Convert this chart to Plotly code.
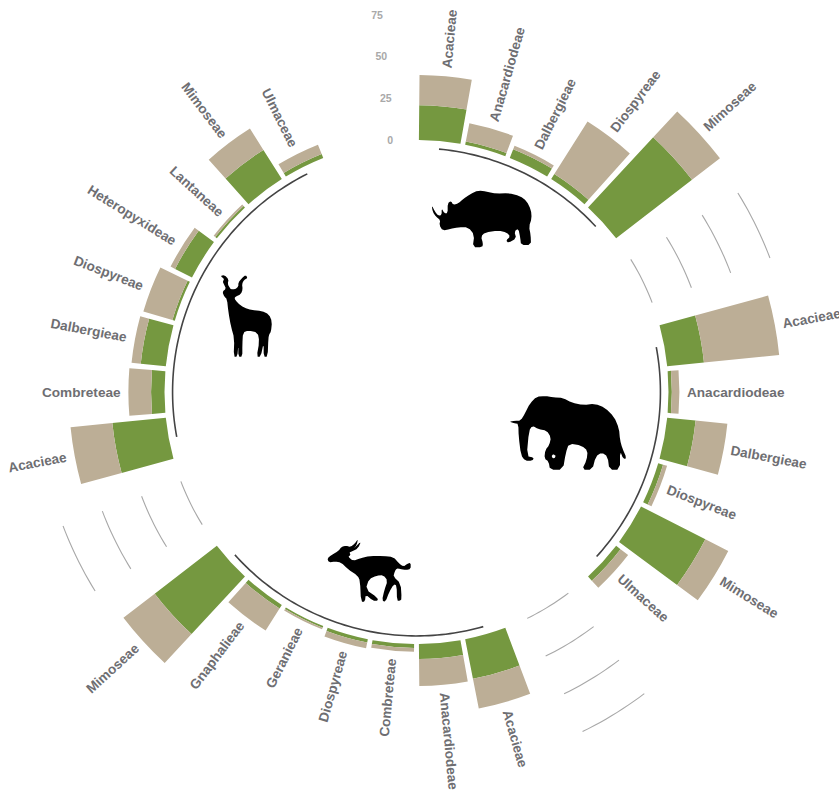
import numpy as np
import plotly.graph_objects as go

# ---------- data ----------
rhino_tribes = ["Acacieae", "Anacardiodeae", "Dalbergieae", "Diospyreae", "Mimoseae"]
rhino_green = [20.7, 2.0, 5.5, 3.5, 57.0]
rhino_tan = [18.0, 11.0, 2.2, 37.0, 21.0]

elephant_tribes = ["Acacieae", "Anacardiodeae", "Dalbergieae", "Diospyreae", "Mimoseae", "Ulmaceae"]
elephant_green = [22.0, 2.0, 17.0, 3.0, 43.0, 3.3]
elephant_tan = [45.0, 4.5, 19.0, 2.5, 15.3, 5.7]

impala_tribes = ["Acacieae", "Anacardiodeae", "Combreteae", "Diospyreae", "Geranieae", "Gnaphalieae", "Mimoseae"]
impala_green = [24.0, 9.0, 2.4, 2.0, 1.0, 2.5, 46.7]
impala_tan = [18.0, 16.0, 2.2, 3.5, 1.0, 15.5, 23.5]

kudu_tribes = ["Acacieae", "Combreteae", "Dalbergieae", "Diospyreae", "Heteropyxideae", "Lantaneae", "Mimoseae", "Ulmaceae"]
kudu_green = [32.0, 8.0, 15.0, 1.5, 11.3, 1.2, 20.5, 2.5]
kudu_tan = [25.0, 13.5, 5.5, 18.0, 3.0, 1.2, 15.0, 6.0]

radial_ticks = [0, 25, 50, 75]

# ---------- layout constants ----------
W, H = 839, 791
CX, CY = 416.5, 392.0
PX_PER_UNIT = 1.68
R0 = 252.0
R_OUT = 390.0
R_MIN = -R0 / PX_PER_UNIT
R_MAX = (R_OUT - R0) / PX_PER_UNIT
SLOT = 360.0 / 34
GREEN = "#759840"
TAN = "#bcae96"
LABEL = "#6e6e72"

groups = [
    (rhino_tribes, rhino_green, rhino_tan),
    (elephant_tribes, elephant_green, elephant_tan),
    (impala_tribes, impala_green, impala_tan),
    (kudu_tribes, kudu_green, kudu_tan),
]

names, greens, tans, thetas, arcs, gaps = [], [], [], [], [], []
slot = 0
for idx, (tribes, g, t) in enumerate(groups):
    first = slot
    for n, a, b in zip(tribes, g, t):
        names.append(n)
        greens.append(a)
        tans.append(b)
        thetas.append(SLOT * (slot + 0.5))
        slot += 1
    arcs.append((SLOT * (first + 0.5), SLOT * (slot - 0.5)))
    if idx < 3:
        gaps.append((SLOT * (slot + 0.5), SLOT * (slot + 1.5)))
    slot += 2

fig = go.Figure()
fig.add_trace(go.Barpolar(r=greens, theta=thetas, width=9.5, marker=dict(color=GREEN, line=dict(width=0)), showlegend=False, hoverinfo="skip"))
fig.add_trace(go.Barpolar(r=tans, theta=thetas, width=9.5, marker=dict(color=TAN, line=dict(width=0)), showlegend=False, hoverinfo="skip"))

for a, b in arcs:
    th = np.arange(a, b + 0.5, 1.0)
    fig.add_trace(go.Scatterpolar(r=[-4.8] * len(th), theta=th, mode="lines", line=dict(color="#444444", width=1.6), showlegend=False, hoverinfo="skip"))
for a, b in gaps:
    th = np.arange(a, b + 0.5, 1.0)
    for tick in radial_ticks:
        fig.add_trace(go.Scatterpolar(r=[tick] * len(th), theta=th, mode="lines", line=dict(color="#a8a8a8", width=1.1), showlegend=False, hoverinfo="skip"))

fig.add_trace(go.Scatterpolar(r=radial_ticks, theta=[354] * 4, mode="text", text=[str(t) for t in radial_ticks],
                              textfont=dict(family="Liberation Sans", size=10.5, weight="bold", color="#a9a9a9"),
                              showlegend=False, hoverinfo="skip"))

# ---------- rotated labels ----------
CW = dict(A=722, C=722, D=722, G=778, H=722, L=611, M=833, U=722, a=556, b=611, c=556, d=611, e=556, g=611, h=611,
          i=278, l=278, m=889, n=611, o=611, p=611, r=389, s=556, t=333, u=611, x=556, y=556)
FS = 13.6
annotations = []
for n, a, b, th in zip(names, greens, tans, thetas):
    w = sum(CW[c] for c in n) * FS / 1000
    r = R0 + (a + b) * PX_PER_UNIT + 8 + w / 2
    rad = np.radians(th)
    x = CX + r * np.sin(rad)
    y = CY - r * np.cos(rad)
    ang = th - 90 if th < 180 else th - 270
    annotations.append(dict(x=x / W, y=1 - y / H, xref="paper", yref="paper", text=n, showarrow=False, textangle=ang,
                            xanchor="center", yanchor="middle", borderpad=0,
                            font=dict(family="Liberation Sans", size=FS, weight="bold", color=LABEL)))

# ---------- silhouettes ----------
def chaikin(pts, rounds=1):
    pts = [tuple(map(float, p)) for p in pts]
    for _ in range(rounds):
        out = []
        for i, p in enumerate(pts):
            q = pts[(i + 1) % len(pts)]
            out.append((0.75 * p[0] + 0.25 * q[0], 0.75 * p[1] + 0.25 * q[1]))
            out.append((0.25 * p[0] + 0.75 * q[0], 0.25 * p[1] + 0.75 * q[1]))
        pts = out
    return pts

def path(ox, oy, pts):
    out = []
    for i, (x, y) in enumerate(chaikin(pts)):
        px = (ox + x / 3) / W
        py = 1 - (oy + y / 3) / H
        out.append(("M" if i == 0 else "L") + f"{px:.5f},{py:.5f}")
    return " ".join(out) + " Z"

rhino = [(20,60),(30,80),(40,92),(50,90),(50,70),(58,85),(68,85),(68,55),(78,48),(85,60),(100,55),(115,42),(135,28),(160,16),
         (185,20),(215,26),(250,24),(285,33),(305,48),(318,75),(320,100),(312,125),(317,150),(318,180),(288,180),(286,160),
         (280,130),(268,140),(274,160),(250,174),(243,166),(256,155),(245,142),(220,137),(180,142),(168,155),(174,175),
         (172,187),(143,187),(148,150),(130,127),(100,127),(75,132),(53,137),(43,120),(46,105),(33,95),(23,80)]
elephant = [(27,95),(45,92),(62,92),(75,70),(90,40),(110,20),(135,18),(160,22),(190,24),(215,38),(250,45),(285,41),(315,53),
            (342,80),(357,115),(360,150),(367,175),(380,205),(370,207),(360,182),(360,239),(328,239),(323,200),(305,187),
            (287,200),(277,239),(246,239),(260,210),(263,182),(245,167),(207,160),(197,190),(189,239),(150,239),(146,215),
            (133,205),(136,180),(148,165),(153,142),(140,122),(115,117),(97,107),(87,122),(80,198),(102,203),(97,212),
            (75,212),(63,195),(56,140),(55,102),(45,100)]
elephant_hole = [(155,198),(160,192),(166,197),(165,204),(158,205)]
impala = [(22,70),(35,60),(55,48),(65,35),(78,32),(92,36),(105,25),(114,12),(110,30),(100,42),(124,18),(114,40),(95,50),(88,52),
          (92,60),(84,65),(100,78),(120,70),(150,63),(190,63),(220,66),(237,85),(250,95),(262,86),(272,83),(272,102),(258,105),
          (240,102),(230,100),(224,110),(220,125),(242,145),(245,192),(240,197),(231,197),(230,152),(222,147),(207,172),(197,200),
          (186,197),(193,165),(203,137),(190,120),(170,122),(147,132),(137,163),(172,188),(174,197),(158,197),(137,178),(135,200),
          (123,200),(120,137),(113,122),(83,102),(63,82),(45,80),(26,82)]
kudu = [(22,65),(33,56),(28,45),(23,35),(28,27),(16,18),(28,15),(41,28),(38,42),(44,53),(48,58),(60,58),(70,50),(70,38),(80,25),
        (92,15),(98,24),(87,30),(81,42),(83,58),(78,72),(62,80),(58,85),(67,98),(87,113),(110,120),(140,123),(162,133),(171,155),
        (168,185),(163,192),(160,205),(158,260),(146,260),(146,218),(137,260),(125,260),(133,215),(128,187),(100,182),(84,187),
        (82,225),(82,260),(70,260),(70,225),(67,260),(56,260),(58,205),(48,170),(40,125),(36,87),(28,80)]

shapes = []
for ox, oy, pts, col in [(425, 185, rhino, "black"), (500, 390, elephant, "black"), (500, 390, elephant_hole, "white"),
                         (320, 535, impala, "black"), (215, 270, kudu, "black")]:
    shapes.append(dict(type="path", xref="paper", yref="paper", path=path(ox, oy, pts), fillcolor=col, line=dict(width=0), layer="above"))

fig.update_layout(
    width=W, height=H, margin=dict(l=0, r=0, t=0, b=0), paper_bgcolor="white", showlegend=False,
    annotations=annotations, shapes=shapes,
    polar=dict(
        domain=dict(x=[(CX - R_OUT) / W, (CX + R_OUT) / W], y=[1 - (CY + R_OUT) / H, 1 - (CY - R_OUT) / H]),
        bgcolor="rgba(0,0,0,0)", barmode="stack", bargap=0,
        radialaxis=dict(range=[R_MIN, R_MAX], visible=False),
        angularaxis=dict(direction="clockwise", rotation=90, visible=False),
    ),
)
fig.write_html("out.html", config={"displayModeBar": False}, post_script="document.body.style.margin='0';")
